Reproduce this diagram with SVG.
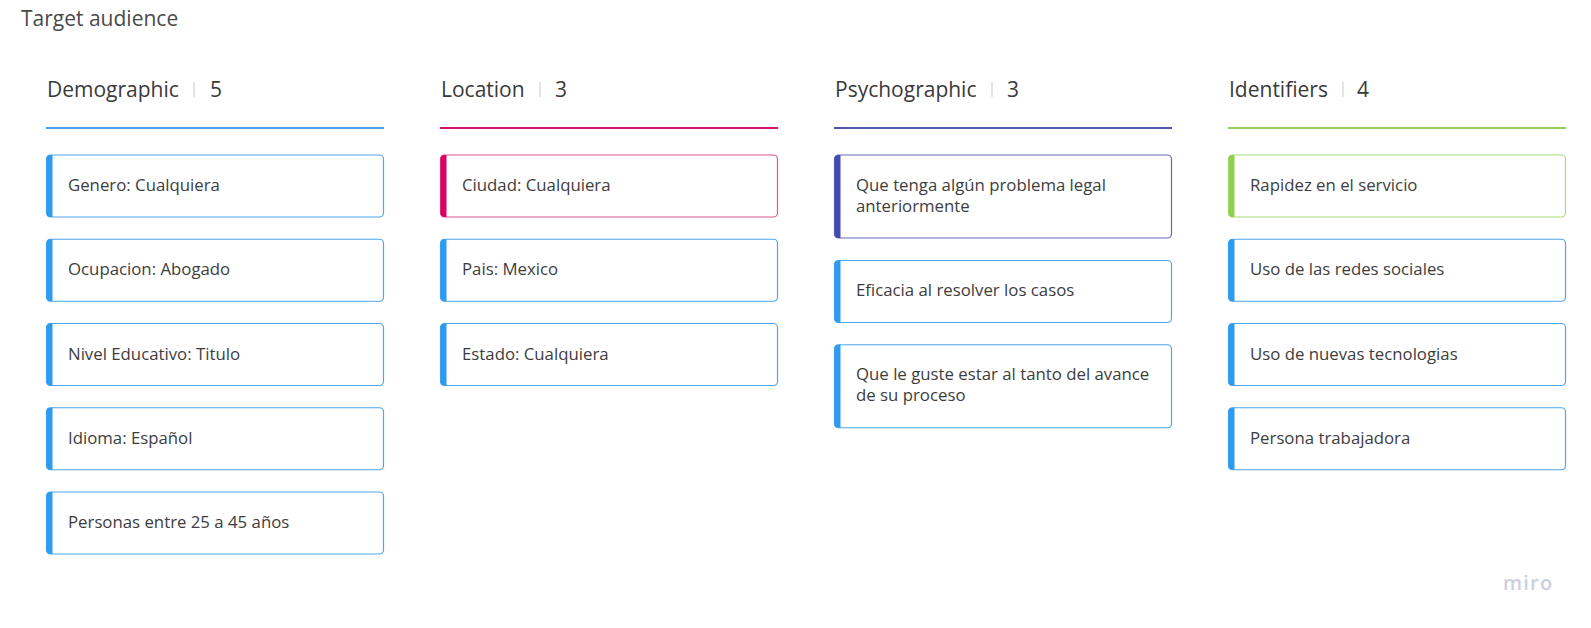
<svg xmlns="http://www.w3.org/2000/svg" width="1591" height="628" viewBox="0 0 1591 628">
<style>
  .title{font-family:"Open Sans","Liberation Sans",sans-serif;font-size:21px;fill:#4a4a4a}
  .head{font-family:"Open Sans","Liberation Sans",sans-serif;font-size:21px;fill:#3a3a3a}
  .txt{font-family:"Open Sans","Liberation Sans",sans-serif;font-size:16.8px;fill:#3d3d3d}
  .sep{stroke:#d6d6d6;stroke-width:1.3}
  .card{fill:#ffffff;stroke-width:1.2}
  .blue .card{stroke:#4ea6ee}
  .blue .bar{fill:#2d9bf0}
  .pink .card{stroke:#e0558f}
  .pink .bar{fill:#da0063}
  .indigo .card{stroke:#646bbf}
  .indigo .bar{fill:#414bb2}
  .green .card{stroke:#a9dc7d}
  .green .bar{fill:#8fd14f}
  .logo{font-family:"Open Sans","Liberation Sans",sans-serif;font-size:20px;font-weight:600;fill:#cdd0db;letter-spacing:1.2px}
</style>
<rect width="1591" height="628" fill="#ffffff"/>
<text class="title" x="21" y="26">Target audience</text>

<g id="col-demographic">
  <text class="head" x="47" y="97">Demographic</text>
  <line class="sep" x1="194" y1="82" x2="194" y2="97"/>
  <text class="head" x="210" y="97">5</text>
  <line x1="46" y1="128" x2="384" y2="128" stroke="#4aa0e6" stroke-width="2"/>
</g>
<g id="col-location">
  <text class="head" x="441" y="97">Location</text>
  <line class="sep" x1="540" y1="82" x2="540" y2="97"/>
  <text class="head" x="555" y="97">3</text>
  <line x1="440" y1="128" x2="778" y2="128" stroke="#d3146a" stroke-width="2"/>
</g>
<g id="col-psychographic">
  <text class="head" x="835" y="97">Psychographic</text>
  <line class="sep" x1="992" y1="82" x2="992" y2="97"/>
  <text class="head" x="1007" y="97">3</text>
  <line x1="834" y1="128" x2="1172" y2="128" stroke="#4f57b0" stroke-width="2"/>
</g>
<g id="col-identifiers">
  <text class="head" x="1229" y="97">Identifiers</text>
  <line class="sep" x1="1343" y1="82" x2="1343" y2="97"/>
  <text class="head" x="1357" y="97">4</text>
  <line x1="1228" y1="128" x2="1566" y2="128" stroke="#93d25a" stroke-width="2"/>
</g>

<!-- Demographic cards -->
<g id="d1" class="blue">
  <rect class="card" x="46.5" y="155" width="337" height="62" rx="4"/>
  <path class="bar" d="M52.5 155H50.5A4 4 0 0 0 46.5 159V213A4 4 0 0 0 50.5 217H52.5Z"/>
  <text class="txt" x="68" y="191">Genero: Cualquiera</text>
</g>
<g id="d2" class="blue">
  <rect class="card" x="46.5" y="239.25" width="337" height="62" rx="4"/>
  <path class="bar" d="M52.5 239.25H50.5A4 4 0 0 0 46.5 243.25V297.25A4 4 0 0 0 50.5 301.25H52.5Z"/>
  <text class="txt" x="68" y="275.25">Ocupacion: Abogado</text>
</g>
<g id="d3" class="blue">
  <rect class="card" x="46.5" y="323.5" width="337" height="62" rx="4"/>
  <path class="bar" d="M52.5 323.5H50.5A4 4 0 0 0 46.5 327.5V381.5A4 4 0 0 0 50.5 385.5H52.5Z"/>
  <text class="txt" x="68" y="359.5">Nivel Educativo: Titulo</text>
</g>
<g id="d4" class="blue">
  <rect class="card" x="46.5" y="407.75" width="337" height="62" rx="4"/>
  <path class="bar" d="M52.5 407.75H50.5A4 4 0 0 0 46.5 411.75V465.75A4 4 0 0 0 50.5 469.75H52.5Z"/>
  <text class="txt" x="68" y="443.75">Idioma: Español</text>
</g>
<g id="d5" class="blue">
  <rect class="card" x="46.5" y="492" width="337" height="62" rx="4"/>
  <path class="bar" d="M52.5 492H50.5A4 4 0 0 0 46.5 496V550A4 4 0 0 0 50.5 554H52.5Z"/>
  <text class="txt" x="68" y="528">Personas entre 25 a 45 años</text>
</g>

<!-- Location cards -->
<g id="l1" class="pink">
  <rect class="card" x="440.5" y="155" width="337" height="62" rx="4"/>
  <path class="bar" d="M446.5 155H444.5A4 4 0 0 0 440.5 159V213A4 4 0 0 0 444.5 217H446.5Z"/>
  <text class="txt" x="462" y="191">Ciudad: Cualquiera</text>
</g>
<g id="l2" class="blue">
  <rect class="card" x="440.5" y="239.25" width="337" height="62" rx="4"/>
  <path class="bar" d="M446.5 239.25H444.5A4 4 0 0 0 440.5 243.25V297.25A4 4 0 0 0 444.5 301.25H446.5Z"/>
  <text class="txt" x="462" y="275.25">Pais: Mexico</text>
</g>
<g id="l3" class="blue">
  <rect class="card" x="440.5" y="323.5" width="337" height="62" rx="4"/>
  <path class="bar" d="M446.5 323.5H444.5A4 4 0 0 0 440.5 327.5V381.5A4 4 0 0 0 444.5 385.5H446.5Z"/>
  <text class="txt" x="462" y="359.5">Estado: Cualquiera</text>
</g>

<!-- Psychographic cards -->
<g id="p1" class="indigo">
  <rect class="card" x="834.5" y="155" width="337" height="83" rx="4"/>
  <path class="bar" d="M840.5 155H838.5A4 4 0 0 0 834.5 159V234A4 4 0 0 0 838.5 238H840.5Z"/>
  <text class="txt" x="856" y="190.5">Que tenga algún problema legal</text>
  <text class="txt" x="856" y="211.5">anteriormente</text>
</g>
<g id="p2" class="blue">
  <rect class="card" x="834.5" y="260.5" width="337" height="62" rx="4"/>
  <path class="bar" d="M840.5 260.5H838.5A4 4 0 0 0 834.5 264.5V318.5A4 4 0 0 0 838.5 322.5H840.5Z"/>
  <text class="txt" x="856" y="296">Eficacia al resolver los casos</text>
</g>
<g id="p3" class="blue">
  <rect class="card" x="834.5" y="344.75" width="337" height="83" rx="4"/>
  <path class="bar" d="M840.5 344.75H838.5A4 4 0 0 0 834.5 348.75V423.75A4 4 0 0 0 838.5 427.75H840.5Z"/>
  <text class="txt" x="856" y="380.25">Que le guste estar al tanto del avance</text>
  <text class="txt" x="856" y="401.25">de su proceso</text>
</g>

<!-- Identifiers cards -->
<g id="i1" class="green">
  <rect class="card" x="1228.5" y="155" width="337" height="62" rx="4"/>
  <path class="bar" d="M1234.5 155H1232.5A4 4 0 0 0 1228.5 159V213A4 4 0 0 0 1232.5 217H1234.5Z"/>
  <text class="txt" x="1250" y="191">Rapidez en el servicio</text>
</g>
<g id="i2" class="blue">
  <rect class="card" x="1228.5" y="239.25" width="337" height="62" rx="4"/>
  <path class="bar" d="M1234.5 239.25H1232.5A4 4 0 0 0 1228.5 243.25V297.25A4 4 0 0 0 1232.5 301.25H1234.5Z"/>
  <text class="txt" x="1250" y="275.25">Uso de las redes sociales</text>
</g>
<g id="i3" class="blue">
  <rect class="card" x="1228.5" y="323.5" width="337" height="62" rx="4"/>
  <path class="bar" d="M1234.5 323.5H1232.5A4 4 0 0 0 1228.5 327.5V381.5A4 4 0 0 0 1232.5 385.5H1234.5Z"/>
  <text class="txt" x="1250" y="359.5">Uso de nuevas tecnologias</text>
</g>
<g id="i4" class="blue">
  <rect class="card" x="1228.5" y="407.75" width="337" height="62" rx="4"/>
  <path class="bar" d="M1234.5 407.75H1232.5A4 4 0 0 0 1228.5 411.75V465.75A4 4 0 0 0 1232.5 469.75H1234.5Z"/>
  <text class="txt" x="1250" y="443.75">Persona trabajadora</text>
</g>

<g id="connectors"></g>

<text class="logo" x="1503" y="590">miro</text>
</svg>
